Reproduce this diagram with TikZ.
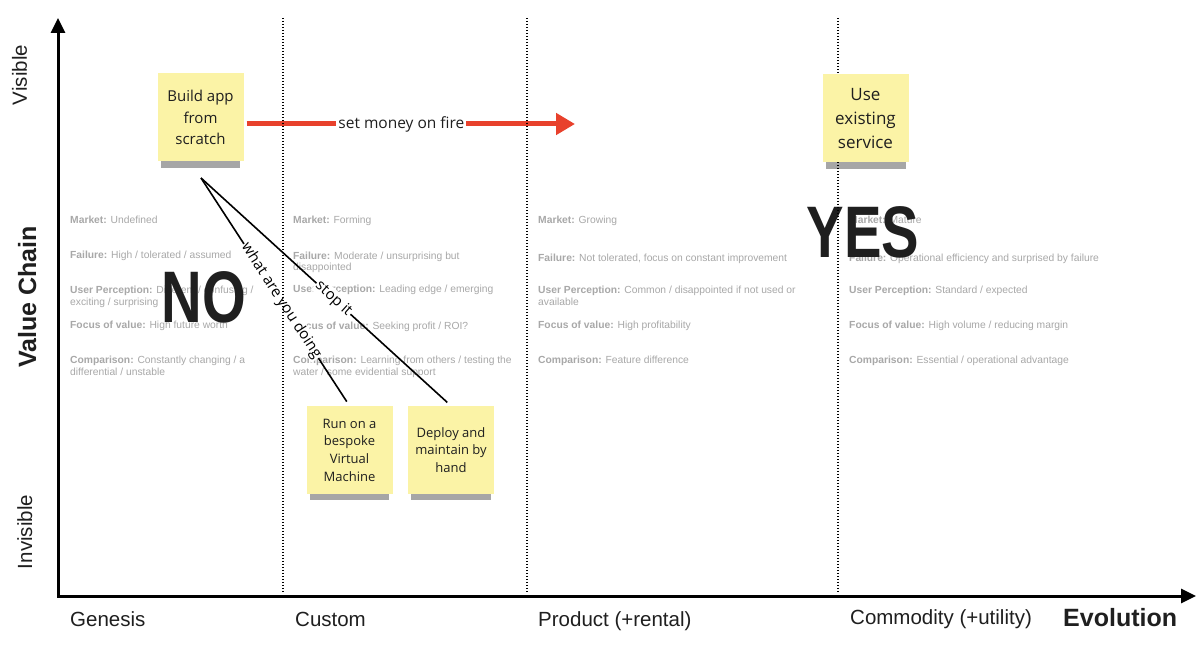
\documentclass[tikz,border=0pt]{standalone}
\usepackage{fontspec}
\usepackage{graphicx}
\setmainfont{Liberation Sans}
\newfontfamily\osans{Open Sans}
\usetikzlibrary{arrows.meta,shadows}
\definecolor{sticky}{HTML}{FBF3A6}
\definecolor{firered}{HTML}{E8412C}
\definecolor{infogray}{HTML}{A8A8A8}
\definecolor{inklabel}{HTML}{1F1F1F}
\begin{document}
\begin{tikzpicture}[x=1pt,y=-1pt,
  info/.style={anchor=base west,inner sep=0pt,text=infogray,font=\fontsize{10.3}{12}\selectfont},
  stagebox/.style={anchor=base west,inner sep=0pt,font=\fontsize{20.5}{24}\selectfont,text=inklabel},
  sidelabel/.style={anchor=base,rotate=90,inner sep=0pt,font=\fontsize{20.5}{24}\selectfont,text=inklabel},
  stickynote/.style={fill=sticky,minimum width=86pt,minimum height=88pt,inner sep=2pt,align=center,text=inklabel,
     drop shadow={shadow xshift=0pt,shadow yshift=-10pt,shadow scale=0.93,opacity=0.35,fill=black}},
  stagedivider/.style={line width=1.4pt,dash pattern=on 1.4pt off 1.6pt},
  axisline/.style={line width=3pt,{Triangle[length=15pt,width=14pt]}-{Triangle[length=15pt,width=14pt]}},
  remark/.style={draw=black,line width=1.6pt},
  remarktext/.style={font=\osans\fontsize{15}{18}\selectfont,fill=white,inner sep=1pt,sloped},
  verdict/.style={anchor=base,inner sep=0pt,text=inklabel,font=\bfseries\fontsize{73}{80}\selectfont}
]
\useasboundingbox (0,0) rectangle (1200,652);
\fill[white] (0,0) rectangle (1200,652);

% ---- info text columns ----
\node[info] (g1) at (70,224) {\textbf{Market:} Undefined};
\node[info] (g2) at (70,259) {\textbf{Failure:} High / tolerated / assumed};
\node[info] (g3) at (70,294) {\textbf{User Perception:} Different / confusing /};
\node[info] (g3b) at (70,306) {exciting / surprising};
\node[info] (g4) at (70,329) {\textbf{Focus of value:} High future worth};
\node[info] (g5) at (70,364) {\textbf{Comparison:} Constantly changing / a};
\node[info] (g5b) at (70,376) {differential / unstable};

\node[info] (c1) at (293,224) {\textbf{Market:} Forming};
\node[info] (c2) at (293,260) {\textbf{Failure:} Moderate / unsurprising but};
\node[info] (c2b) at (293,271) {disappointed};
\node[info] (c3) at (293,293) {\textbf{User Perception:} Leading edge / emerging};
\node[info] (c4) at (293,330) {\textbf{Focus of value:} Seeking profit / ROI?};
\node[info] (c5) at (293,364) {\textbf{Comparison:} Learning from others / testing the};
\node[info] (c5b) at (293,376) {water / some evidential support};

\node[info] (p1) at (538,224) {\textbf{Market:} Growing};
\node[info] (p2) at (538,262) {\textbf{Failure:} Not tolerated, focus on constant improvement};
\node[info] (p3) at (538,294) {\textbf{User Perception:} Common / disappointed if not used or};
\node[info] (p3b) at (538,306) {available};
\node[info] (p4) at (538,329) {\textbf{Focus of value:} High profitability};
\node[info] (p5) at (538,364) {\textbf{Comparison:} Feature difference};

\node[info] (m1) at (849,224) {\textbf{Market:} Mature};
\node[info] (m2) at (849,262) {\textbf{Failure:} Operational efficiency and surprised by failure};
\node[info] (m3) at (849,294) {\textbf{User Perception:} Standard / expected};
\node[info] (m4) at (849,329) {\textbf{Focus of value:} High volume / reducing margin};
\node[info] (m5) at (849,364) {\textbf{Comparison:} Essential / operational advantage};

% ---- verdicts ----
\node[verdict] (no) at (204,323) {\scalebox{0.77}[1]{NO}};
\node[verdict] (yes) at (863,258) {\scalebox{0.77}[1]{YES}};

% ---- sticky note positions (placed, drawn later) ----
\path (200.5,117.5) coordinate (buildc) (865.5,118.5) coordinate (usec)
      (349.5,450) coordinate (runc) (451,450) coordinate (deployc);
\node[minimum width=86pt,minimum height=88pt] (runbox) at (runc) {};
\node[minimum width=86pt,minimum height=88pt] (deploybox) at (deployc) {};
\node[minimum width=86pt,minimum height=88pt] (buildbox) at (buildc) {};

% ---- remarks ----
\coordinate (fork) at (201,178);
\draw[remark,shorten >=5pt] (fork) -- node[remarktext,pos=0.54] (whatlbl) {what are you doing} (runbox.north);
\draw[remark,shorten >=5pt] (fork) -- node[remarktext,pos=0.53] (stoplbl) {stop it} (deploybox.north);

% ---- red arrow ----
\coordinate (fire) at (575,124);
\draw[firered,line width=5pt,shorten <=3pt,-{Triangle[length=19pt,width=21pt]}] (buildbox.east |- fire) -- node[pos=0.476,fill=white,text=inklabel,inner sep=2pt,font=\osans\fontsize{15.5}{18}\selectfont] (firelbl) {set money on fire} (fire);

% ---- stage dividers ----
\coordinate (d1t) at (283,18); \coordinate (d1b) at (283,592);
\coordinate (d2t) at (527,18); \coordinate (d2b) at (527,592);
\coordinate (d3t) at (838,18); \coordinate (d3b) at (838,592);
\draw[stagedivider] (d1t) -- (d1b);
\draw[stagedivider] (d2t) -- (d2b);
\draw[stagedivider] (d3t) -- (d3b);

% ---- sticky notes ----
\node[stickynote,font=\osans\fontsize{15}{21.5}\selectfont] (build) at (buildc) {Build app\\from\\scratch};
\node[stickynote,font=\osans\fontsize{17}{24}\selectfont] (use) at (usec) {Use\\existing\\service};
\node[stickynote,font=\osans\fontsize{13}{17.7}\selectfont] (run) at (runc) {Run on a\\bespoke\\Virtual\\Machine};
\node[stickynote,font=\osans\fontsize{13}{17.7}\selectfont] (deploy) at (deployc) {Deploy and\\maintain by\\hand};

% ---- axes ----
\coordinate (ytop) at (58,18);
\coordinate (xend) at (1196,596);
\draw[axisline] (ytop) |- (xend);

% ---- axis labels ----
\node[stagebox] (genesis) at (70,626) {Genesis};
\node[stagebox] (custom) at (295,626) {Custom};
\node[stagebox] (product) at (538,626) {Product (+rental)};
\node[stagebox] (commodity) at (850,624) {Commodity (+utility)};
\node[anchor=base west,inner sep=0pt,text=inklabel,font=\bfseries\fontsize{25}{28}\selectfont] (evolution) at (1063,626) {Evolution};

\node[sidelabel] (visible) at (27,75) {Visible};
\node[sidelabel] (invisible) at (32,532) {Invisible};
\node[sidelabel,font=\bfseries\fontsize{25}{28}\selectfont] (valuechain) at (36,297) {Value Chain};
\end{tikzpicture}
\end{document}
